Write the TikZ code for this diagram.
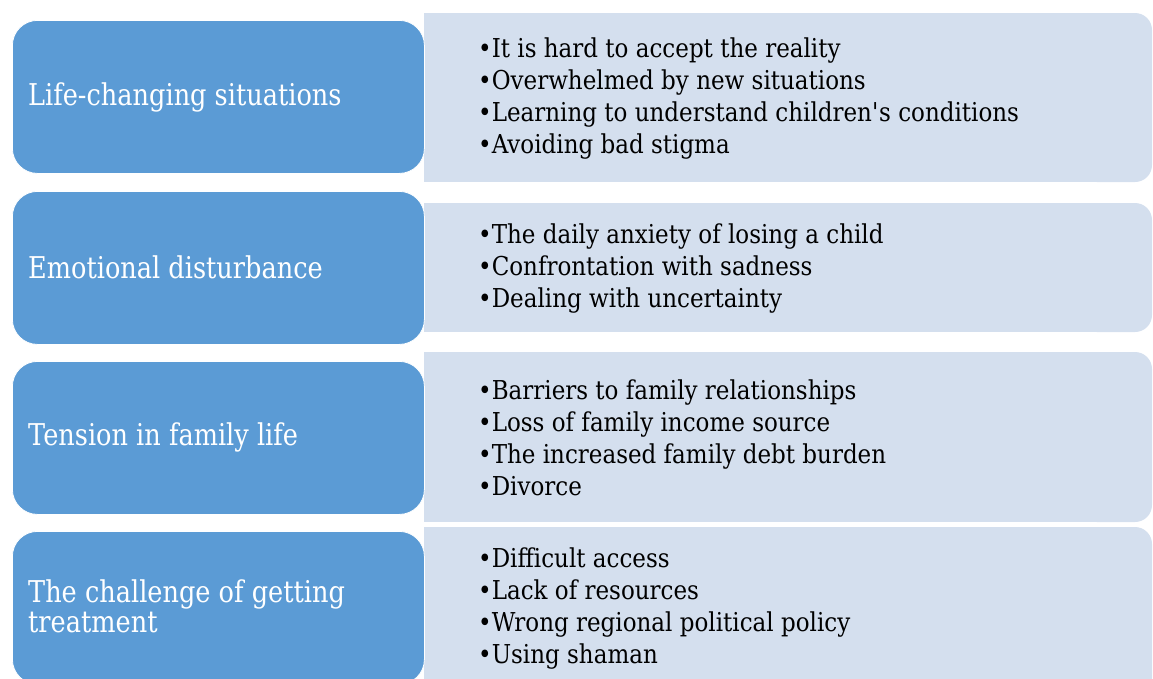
\documentclass[tikz,border=0pt]{standalone}
\usepackage{fontspec}
\newfontfamily\gfont[FakeStretch=0.885]{DejaVu Serif}
\newfontfamily\lfont[FakeStretch=0.853]{DejaVu Serif}
\definecolor{blu}{HTML}{5B9BD5}
\definecolor{pale}{HTML}{D4DFEE}
\begin{document}
\begin{tikzpicture}[x=1pt,y=-1pt,
  cat/.style={fill=blu, draw=white, line width=0.8pt, rounded corners=25pt,
    minimum width=412pt, minimum height=153pt, anchor=north west, inner sep=0pt},
  lab/.style={text=white, font=\lfont\fontsize{30}{30}\selectfont, align=left,
    anchor=west, inner sep=0pt},
  items/.style={font=\gfont\fontsize{26}{32}\selectfont, align=left,
    anchor=west, inner sep=0pt},
  palebox/.style={fill=pale}]
\useasboundingbox (0,0) rectangle (1153,678);
\clip (0,0) rectangle (1153,678);
% right panels
\fill[palebox] (424,13) rectangle (1120,182);
\fill[palebox, rounded corners=17pt] (1080,13) rectangle (1152,182);
\fill[palebox] (424,203) rectangle (1120,332);
\fill[palebox, rounded corners=17pt] (1080,203) rectangle (1152,332);
\fill[palebox] (424,352) rectangle (1120,522);
\fill[palebox, rounded corners=17pt] (1080,352) rectangle (1152,522);
\fill[palebox] (424,527) rectangle (1120,700);
\fill[palebox, rounded corners=17pt] (1080,527) rectangle (1152,700);
% left category boxes
\node[cat] (c1) at (12,20) {};
\node[cat] (c2) at (12,191) {};
\node[cat] (c3) at (12,361) {};
\node[cat] (c4) at (12,531) {};
\node[lab] (l1) at (28,97) {Life-changing situations};
\node[lab] (l2) at (28,267) {Emotional disturbance};
\node[lab] (l3) at (28,437) {Tension in family life};
\node[lab] (l4) at (28,606) {The challenge of getting\\treatment};
% items
\node[items] (i1) at (478,99) {\textbullet It is hard to accept the reality\\
  \textbullet Overwhelmed by new situations\\
  \textbullet Learning to understand children\textquotesingle s conditions\\
  \textbullet Avoiding bad stigma};
\node[items] (i2) at (478,269) {\textbullet The daily anxiety of losing a child\\
  \textbullet Confrontation with sadness\\
  \textbullet Dealing with uncertainty};
\node[items] (i3) at (478,438) {\textbullet Barriers to family relationships\\
  \textbullet Loss of family income source\\
  \textbullet The increased family debt burden\\
  \textbullet Divorce};
\node[items] (i4) at (478,608) {\textbullet Difficult access\\
  \textbullet Lack of resources\\
  \textbullet Wrong regional political policy\\
  \textbullet Using shaman};
\end{tikzpicture}
\end{document}
